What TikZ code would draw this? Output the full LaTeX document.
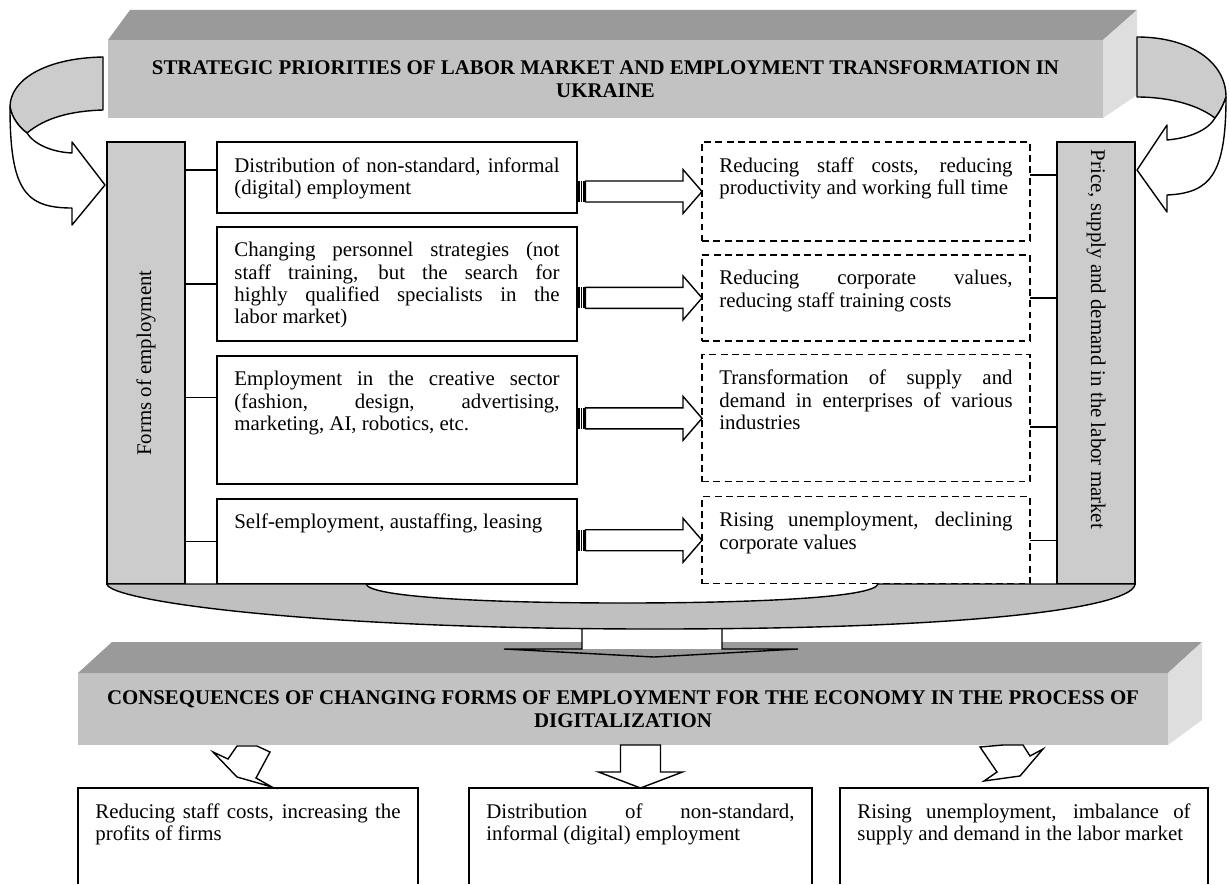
\documentclass[tikz,border=0pt]{standalone}
\usepackage{fontspec}
\setmainfont{Liberation Serif}
\usepackage{graphicx}
\usetikzlibrary{positioning}

\newlength{\pxl}
\setlength{\pxl}{0.575pt}
\tolerance=10000
\hbadness=10000
\hyphenpenalty=10000
\exhyphenpenalty=10000

\definecolor{frontgrey}{HTML}{C2C2C2}
\definecolor{topgrey}{HTML}{9A9A9A}
\definecolor{sidegrey}{HTML}{DEDEDE}
\definecolor{colgrey}{HTML}{CCCCCC}
\definecolor{bandgrey}{HTML}{C0C0C0}

% text of a box: height, width (in px of the drawing), text
\newcommand{\boxtext}[3]{%
  \parbox[c][#1\pxl][t]{\dimexpr#2\pxl-20pt\relax}{\rule{0pt}{30\pxl}#3}}

% striped block arrow from a form box to an effect box
\newcommand{\stripedarrow}[2]{%
  \fill (#1) ++(0,-10.5) rectangle ++(2.5,21);
  \fill (#1) ++(3.5,-10.5) rectangle ++(1.5,21);
  \fill (#1) ++(6,-10.5) rectangle ++(1.5,21);
  \draw[blockarrow] (#1) ++(8.5,-10.5) -- ++(97.5,0) -- ++(0,-11.5) -- (#2)
    -- ++(-19,22) -- ++(0,-11.5) -- ++(-97.5,0) -- cycle;}

\begin{document}
\begin{tikzpicture}[x=0.575pt, y=-0.575pt,
  formbox/.style={draw, line width=0.8pt, fill=white, inner xsep=10pt, inner ysep=0pt, outer sep=0pt, font=\fontsize{12}{12.8}\selectfont},
  effectbox/.style={formbox, dash pattern=on 4pt off 2.5pt, line width=0.7pt},
  resultbox/.style={formbox, draw=none, fill=none},
  column/.style={draw, line width=0.8pt, fill=colgrey, inner sep=0pt, outer sep=0pt, minimum width=78\pxl, minimum height=442\pxl, font=\fontsize{12}{12.8}\selectfont},
  banner/.style={fill=frontgrey, inner sep=0pt, outer sep=0pt, align=center, font=\fontsize{12}{13.5}\selectfont\bfseries},
  blockarrow/.style={draw, line width=0.8pt, fill=white, line join=miter},
  curvearrow/.style={draw, line width=0.8pt, line join=round},
  link/.style={line width=0.8pt}]

\useasboundingbox (0,0) rectangle (1229,885);

% top banner
\node[banner, minimum width=995\pxl, minimum height=78\pxl] (strat) at (605.5,79)
  {STRATEGIC PRIORITIES OF LABOR MARKET AND EMPLOYMENT TRANSFORMATION IN\\UKRAINE};
\fill[topgrey] (strat.north west) -- ++(22,-30) -- ++(1007,0) -- (strat.north east) -- cycle;
\fill[sidegrey] (strat.north east) -- ++(34,-30) -- ++(0,85) -- (strat.south east) -- cycle;

% curved arrows to the columns
\draw[curvearrow, fill=colgrey] (103,57) .. controls (45,58) and (10,80) .. (10,107)
  .. controls (12,118) and (19,127) .. (27,133) .. controls (45,118) and (70,111) .. (103,110) -- cycle;
\draw[curvearrow, fill=white] (10,107) .. controls (10,190) and (25,208) .. (72,208) -- (72,225) -- (105,185)
  -- (72,142) -- (72,153) .. controls (50,152) and (33,143) .. (27,133)
  .. controls (19,127) and (12,118) .. (10,107) -- cycle;
\draw[curvearrow, fill=colgrey] (1137,37) .. controls (1190,37) and (1226,62) .. (1226,97)
  .. controls (1223,106) and (1219,113) .. (1215,118) .. controls (1195,103) and (1165,97) .. (1137,97) -- cycle;
\draw[curvearrow, fill=white] (1226,97) .. controls (1226,175) and (1210,193) .. (1167,195) -- (1167,212) -- (1137,170)
  -- (1167,125) -- (1167,140) .. controls (1190,138) and (1208,130) .. (1215,118)
  .. controls (1219,113) and (1223,106) .. (1226,97) -- cycle;

% columns
\node[column] (forms) at (146,363) {\rotatebox{90}{Forms of employment}};
\node[column] (price) at (1096,363) {\rotatebox{-90}{\parbox{426\pxl}{Price, supply and demand in the labor market}}};

% forms of employment
\node[formbox, anchor=north west] (l1) at (217,142) {\boxtext{71}{360}{Distribution of non-standard, informal\linebreak (digital) employment}};
\node[formbox, below=8pt of l1] (l2) {\boxtext{114}{360}{Changing personnel strategies (not\linebreak staff training, but the search for\linebreak highly qualified specialists in the\linebreak labor market)}};
\node[formbox, below=8.6pt of l2] (l3) {\boxtext{128}{360}{Employment in the creative sector\linebreak (fashion, design, advertising,\linebreak marketing, AI, robotics, etc.}};
\node[formbox, below=8.6pt of l3] (l4) {\boxtext{85}{360}{Self-employment, austaffing, leasing}};

% effects
\node[effectbox, anchor=north west] (r1) at (702,142) {\boxtext{99}{328}{Reducing staff costs, reducing\linebreak productivity and working full time}};
\node[effectbox, below=8pt of r1] (r2) {\boxtext{86}{328}{Reducing corporate values,\linebreak reducing staff training costs}};
\node[effectbox, below=8pt of r2] (r3) {\boxtext{127}{328}{Transformation of supply and\linebreak demand in enterprises of various\linebreak industries}};
\node[effectbox, below=8.6pt of r3] (r4) {\boxtext{87}{328}{Rising unemployment, declining\linebreak corporate values}};

% links to the columns
\draw[link] ([yshift=4.3pt]l1.west) -- ([yshift=4.3pt]l1.west -| forms.east);
\draw[link] (l2.west) -- (l2.west -| forms.east);
\draw[link] ([yshift=12.7pt]l3.west) -- ([yshift=12.7pt]l3.west -| forms.east);
\draw[link] (l4.west) -- (l4.west -| forms.east);
\draw[link] ([yshift=9.5pt]r1.east) -- ([yshift=9.5pt]r1.east -| price.west);
\draw[link] (r2.east) -- (r2.east -| price.west);
\draw[link] ([yshift=-4.9pt]r3.east) -- ([yshift=-4.9pt]r3.east -| price.west);
\draw[link] (r4.east) -- (r4.east -| price.west);

% arrows from forms to effects
\stripedarrow{l1.east |- r1.west}{r1.west}
\stripedarrow{l2.east |- r2.west}{r2.west}
\stripedarrow{l3.east |- r3.west}{r3.west}
\stripedarrow{l4.east |- r4.west}{r4.west}

% bottom banner
\node[banner, minimum width=1090\pxl, minimum height=72\pxl] (cons) at (623,709)
  {CONSEQUENCES OF CHANGING FORMS OF EMPLOYMENT FOR THE ECONOMY IN THE PROCESS OF\\DIGITALIZATION};
\fill[topgrey] (cons.north west) -- ++(34,-31) -- ++(1090,0) -- (cons.north east) -- cycle;
\fill[sidegrey] (cons.north east) -- ++(34,-31) -- ++(0,78) -- (cons.south east) -- cycle;

% down arrow and the band under the columns
\fill[white] (582,615) rectangle (722,649);
\draw[link] (582,615) -- (582,649) -- (504,649) -- (654,657) -- (798,649) -- (722,649) -- (722,615);
\draw[curvearrow, fill=bandgrey] (forms.south west) -- (366,584) .. controls (370,598) and (500,603) .. (622,603)
  .. controls (750,603) and (874,598) .. (878,584) -- (price.south east)
  .. controls (1134,605) and (1000,629) .. (654,629) .. controls (300,629) and (108,600) .. (forms.south west) -- cycle;

% consequences
\node[resultbox, anchor=north west] (b1) at (78,788) {\boxtext{96}{340}{Reducing staff costs, increasing the\linebreak profits of firms}};
\node[resultbox, anchor=north west] (b2) at (469,788) {\boxtext{96}{343}{Distribution of non-standard,\linebreak informal (digital) employment}};
\node[resultbox, anchor=north west] (b3) at (840,788) {\boxtext{96}{368}{Rising unemployment, imbalance of\linebreak supply and demand in the labor market}};
\draw[link] (b1.south west) -- (b1.north west) -- (b1.north east) -- (b1.south east);
\draw[link] (b2.south west) -- (b2.north west) -- (b2.north east) -- (b2.south east);
\draw[link] (b3.south west) -- (b3.north west) -- (b3.north east) -- (b3.south east);

\draw[blockarrow] (b1.north) ++(24,-1) -- ++(-35,-10) -- ++(-24,-25) -- ++(15,7) -- ++(9,-13) -- ++(20,0) -- ++(13,6) -- ++(-14,26) -- cycle;
\draw[blockarrow] (b2.north) -- ++(-42,-16) -- ++(22,0) -- ++(0,-27) -- ++(40,0) -- ++(0,27) -- ++(22,0) -- cycle;
\draw[blockarrow] (b3.north) ++(-40,-7) -- ++(36,-5) -- ++(23,-27) -- ++(-13,7) -- ++(-7,-11) -- ++(-20,0) -- ++(-23,2) -- ++(17,25) -- cycle;

\end{tikzpicture}
\end{document}
